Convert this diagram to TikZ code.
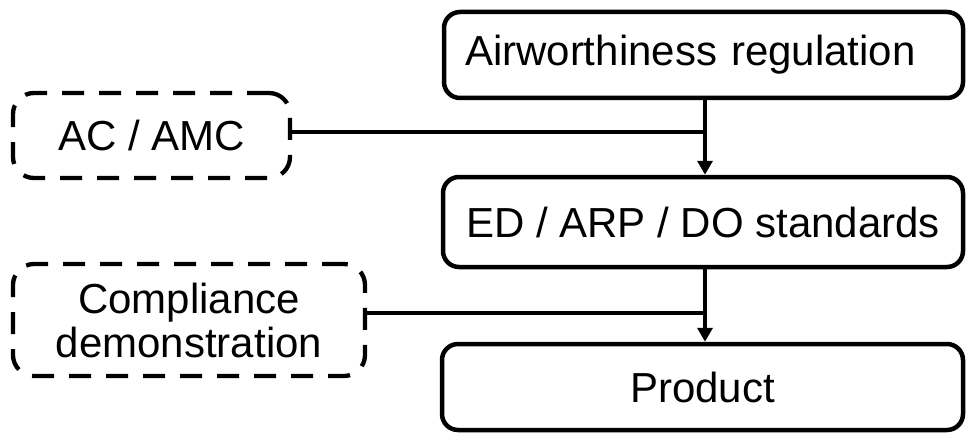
\documentclass[tikz,border=0pt]{standalone}
\usepackage{fontspec}
\setmainfont{Liberation Sans}
\usetikzlibrary{arrows.meta}

\tikzset{
  solidbox/.style={draw=black, line width=4.5pt, rounded corners=16pt,
    fill=white, inner sep=0pt, font=\fontsize{42pt}{45pt}\selectfont},
  dashbox/.style={draw=black, line width=4.3pt, rounded corners=21pt,
    dash pattern=on 22pt off 15pt, inner sep=0pt, align=center,
    font=\fontsize{42pt}{44pt}\selectfont},
  link/.style={draw=black, line width=4pt},
  flow/.style={link, -{Triangle[width=15pt,length=14pt]}}
}

\begin{document}
\begin{tikzpicture}[x=1pt, y=-1pt]
  \useasboundingbox (0,0) rectangle (966,433);

  % main chain of documents
  \node[solidbox, minimum width=519pt, minimum height=86pt,
        text width=477pt, align=left] (reg) at (703.5,55)
        {Airworthiness regulation};
  \node[solidbox, minimum width=520pt, minimum height=90pt] (std) at (703,222)
        {ED / ARP / DO standards};
  \node[solidbox, minimum width=521pt, minimum height=86pt] (prod) at (702.5,387)
        {Product};

  % supporting material
  \node[dashbox, minimum width=277pt, minimum height=85pt] (ac) at (151.5,135.5)
        {AC / AMC};
  \node[dashbox, minimum width=352pt, minimum height=112pt] (comp) at (189,320)
        {Compliance\\demonstration};

  % spine position
  \coordinate (spine) at (705,0);

  \draw[flow] (reg.south -| spine) -- (std.north -| spine);
  \draw[flow] (std.south -| spine) -- (prod.north -| spine);
  \draw[link] ([yshift=3.5pt]ac.east) -- ([yshift=3.5pt]ac.east -| spine);
  \draw[link] ([yshift=7.5pt]comp.east) -- ([yshift=7.5pt]comp.east -| spine);
\end{tikzpicture}
\end{document}
